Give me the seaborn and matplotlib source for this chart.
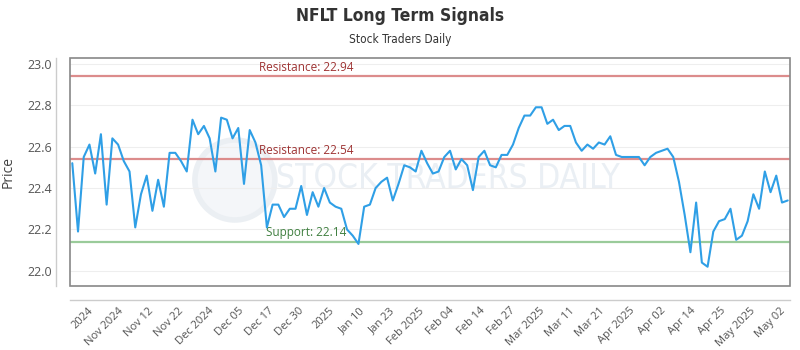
import numpy as np
import pandas as pd
import matplotlib
matplotlib.use("Agg")
import matplotlib.pyplot as plt
import matplotlib.patches as mpatches
import matplotlib.transforms as mtransforms
import seaborn as sns

# ---------------- data ----------------
prices = [
    22.52, 22.19, 22.55, 22.61, 22.47, 22.66, 22.32, 22.64, 22.61, 22.53,
    22.48, 22.21, 22.37, 22.46, 22.29, 22.44, 22.31, 22.57, 22.57, 22.53,
    22.48, 22.73, 22.66, 22.70, 22.64, 22.48, 22.74, 22.73, 22.64, 22.69,
    22.42, 22.68, 22.62, 22.51, 22.21, 22.32, 22.32, 22.26, 22.30, 22.30,
    22.41, 22.27, 22.38, 22.31, 22.40, 22.33, 22.31, 22.30, 22.20, 22.17,
    22.13, 22.31, 22.32, 22.40, 22.43, 22.45, 22.34, 22.42, 22.51, 22.50,
    22.48, 22.58, 22.52, 22.47, 22.48, 22.55, 22.58, 22.49, 22.54, 22.51,
    22.39, 22.55, 22.58, 22.51, 22.50, 22.56, 22.56, 22.61, 22.69, 22.75,
    22.75, 22.79, 22.79, 22.71, 22.73, 22.68, 22.70, 22.70, 22.62, 22.58,
    22.61, 22.59, 22.62, 22.61, 22.65, 22.56, 22.55, 22.55, 22.55, 22.55,
    22.51, 22.55, 22.57, 22.58, 22.59, 22.55, 22.43, 22.27, 22.09, 22.33,
    22.04, 22.02, 22.19, 22.24, 22.25, 22.30, 22.15, 22.17, 22.24, 22.37,
    22.30, 22.48, 22.38, 22.46, 22.33, 22.34,
]
tick_labels = [
    "2024", "Nov 2024", "Nov 12", "Nov 22", "Dec 2024", "Dec 05", "Dec 17",
    "Dec 30", "2025", "Jan 10", "Jan 23", "Feb 2025", "Feb 04", "Feb 14",
    "Feb 27", "Mar 2025", "Mar 11", "Mar 21", "Apr 2025", "Apr 02", "Apr 14",
    "Apr 25", "May 2025", "May 02",
]
levels = [22.94, 22.54, 22.14]
level_names = ["Resistance", "Resistance", "Support"]
y_ticks = [22.0, 22.2, 22.4, 22.6, 22.8, 23.0]

df = pd.DataFrame({"day": np.arange(len(prices)), "price": prices})

# ---------------- style ----------------
sns.set_theme(style="white")
plt.rcParams["font.family"] = ["Open Sans", "DejaVu Sans"]

fig = plt.figure(figsize=(8, 3.5), dpi=100)
ax = fig.add_axes([70 / 800, 64 / 350, 720 / 800, 228 / 350])

# watermark
ax.text(0.525, 0.47, "STOCK TRADERS DAILY", transform=ax.transAxes,
        ha="center", va="center", fontsize=24, color="#eaeff4",
        family="DejaVu Sans", fontstretch="condensed", zorder=0)
ax.add_patch(mpatches.Ellipse((0.229, 0.465), 80 / 720, 80 / 228,
                              transform=ax.transAxes, facecolor="#f4f6f9",
                              edgecolor="#ebeff3", lw=4, zorder=0))

# grid
for yv in y_ticks:
    ax.axhline(yv, color="#eeeeee", lw=0.8, zorder=1)

# levels
level_colors = ["#dc8c8c", "#dc8c8c", "#9acb9a"]
text_colors = ["#9e3333", "#9e3333", "#3f7f3f"]
trans = mtransforms.blended_transform_factory(ax.transAxes, ax.transData)
for lv, nm, lc, tc in zip(levels, level_names, level_colors, text_colors):
    ax.axhline(lv, color=lc, lw=1.6, zorder=2)
    ax.text(0.328, lv + 0.012, f"{nm}: {lv:.2f}", transform=trans,
            ha="center", va="bottom", fontsize=8.5, color=tc, zorder=3)

sns.lineplot(data=df, x="day", y="price", ax=ax, color="#2f9fe6",
             lw=1.5, zorder=4)

ax.set_xlim(-0.4, len(prices) - 1 + 0.4)
ax.set_ylim(21.927, 23.028)
ax.set_yticks(y_ticks)
ax.set_yticklabels([f"{v:.1f}" for v in y_ticks])
xt = np.linspace(2.75, 123.7, len(tick_labels))
ax.set_xticks(xt)
ax.set_xticklabels(tick_labels)

ax.tick_params(axis="both", length=0, colors="#555555", labelsize=8)
ax.tick_params(axis="y", pad=3, labelsize=9)
ax.tick_params(axis="x", pad=4)
ax.set_xlabel("")
ax.set_ylabel("Price", fontsize=10, color="#444444")
ax.yaxis.set_label_coords(-0.076, 0.5)

for s in ["top", "right"]:
    ax.spines[s].set_visible(False)
for s in ["left", "bottom"]:
    ax.spines[s].set_position(("outward", 10))
    ax.spines[s].set_color("#cccccc")
    ax.spines[s].set_linewidth(1)
ax.add_patch(mpatches.Rectangle((0, 0), 1, 1, transform=ax.transAxes,
                                fill=False, edgecolor="#888888", lw=1.2,
                                clip_on=False, zorder=6))

plt.setp(ax.get_xticklabels(), rotation=45, ha="right",
         rotation_mode="anchor")

fig.text(0.5, 1 - 16 / 350, "NFLT Long Term Signals", ha="center",
         va="center", fontsize=12.5, fontweight="bold", color="#333333",
         family="DejaVu Sans", fontstretch="condensed")
fig.text(0.5, 1 - 40 / 350, "Stock Traders Daily", ha="center",
         va="center", fontsize=8.5, color="#333333",
         family="DejaVu Sans", fontstretch="condensed")

fig.savefig("out.png", dpi=100, facecolor="white")
